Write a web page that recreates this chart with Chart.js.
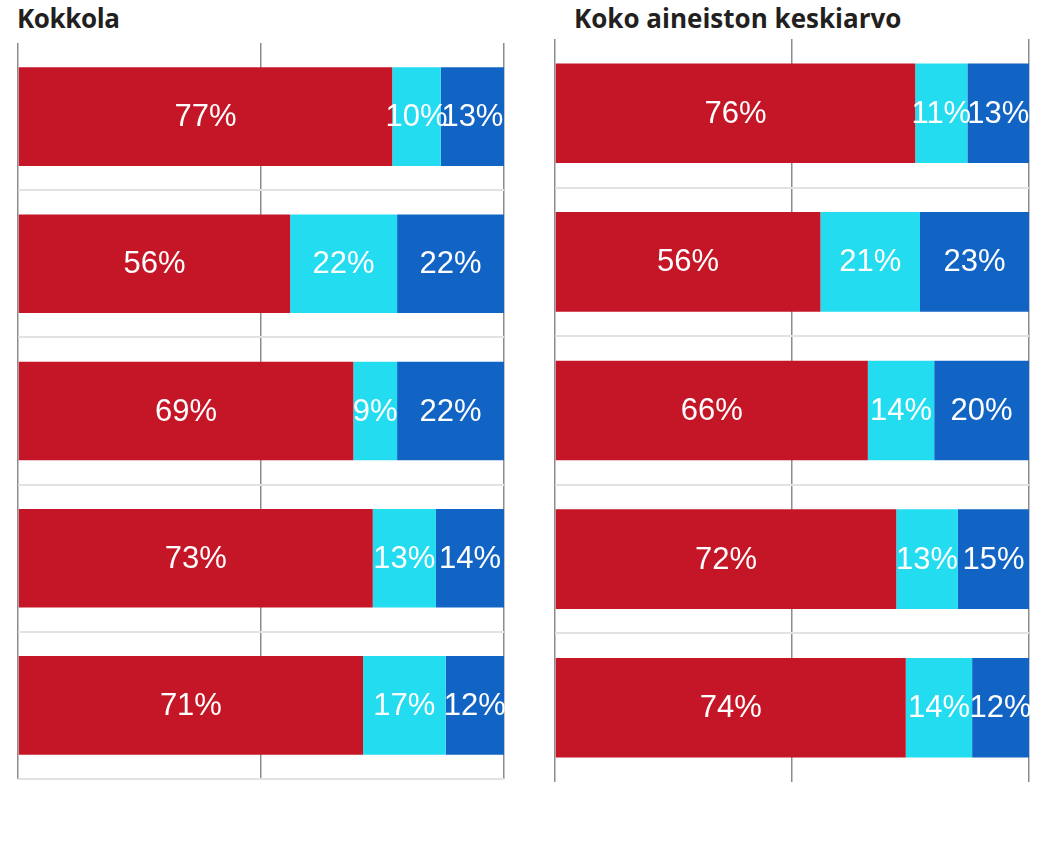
<!DOCTYPE html>
<html>
<head>
<meta charset="utf-8">
<script src="https://cdn.jsdelivr.net/npm/chart.js@4/dist/chart.umd.min.js"></script>
<style>
  body { margin: 0; background: #fff; width: 1046px; height: 863px; position: relative; overflow: hidden; }
  .title { position: absolute; font-family: "Open Sans", sans-serif; font-weight: bold; font-size: 26px; color: #231f20; white-space: nowrap; line-height: 1; }
  .box { position: absolute; }
</style>
</head>
<body>
<div class="title" style="left:17px; top:5px; letter-spacing:-0.4px;">Kokkola</div>
<div class="title" style="left:574px; top:5px;">Koko aineiston keskiarvo</div>
<div class="box" style="left:14px; top:43px; width:494px; height:739px;"><canvas id="left" width="494" height="739"></canvas></div>
<div class="box" style="left:551px; top:39px; width:482px; height:746px;"><canvas id="right" width="482" height="746"></canvas></div>
<script>
// categories (no labels shown in the picture)
const categories = ['1', '2', '3', '4', '5'];
const xTicks = [0, 50, 100];

// Kokkola
const kokkolaRed = [77, 56, 69, 73, 71];
const kokkolaCyan = [10, 22, 9, 13, 17];
const kokkolaBlue = [13, 22, 22, 14, 12];

// Koko aineiston keskiarvo
const avgRed = [76, 56, 66, 72, 74];
const avgCyan = [11, 21, 14, 13, 14];
const avgBlue = [13, 23, 20, 15, 12];

const colors = ['#c41626', '#24dcf0', '#1264c4'];

// draws the value of each segment in the middle of it
const barLabels = {
  id: 'barLabels',
  afterDatasetsDraw(chart) {
    const ctx = chart.ctx;
    ctx.save();
    ctx.fillStyle = '#fff';
    ctx.font = '31px "Liberation Sans", Arial, sans-serif';
    ctx.textAlign = 'center';
    ctx.textBaseline = 'middle';
    chart.data.datasets.forEach(function(ds, i) {
      chart.getDatasetMeta(i).data.forEach(function(bar, j) {
        const x = (bar.x + bar.base) / 2;
        ctx.fillText(ds.data[j] + '%', x, bar.y + 1);
      });
    });
    ctx.restore();
  }
};

function makeChart(id, red, cyan, blue, hideBottom) {
  return new Chart(document.getElementById(id), {
    type: 'bar',
    data: {
      labels: categories,
      datasets: [
        { data: red, backgroundColor: colors[0] },
        { data: cyan, backgroundColor: colors[1] },
        { data: blue, backgroundColor: colors[2] }
      ]
    },
    options: {
      indexAxis: 'y',
      responsive: false,
      animation: false,
      events: [],
      layout: { padding: { left: 4, right: 4, top: 0, bottom: 3 } },
      datasets: { bar: { categoryPercentage: 0.67, barPercentage: 1 } },
      plugins: { legend: { display: false }, tooltip: { enabled: false } },
      scales: {
        x: {
          stacked: true,
          min: 0,
          max: 100,
          afterBuildTicks: function(axis) { axis.ticks = xTicks.map(v => ({ value: v })); },
          ticks: { display: false },
          border: { display: false },
          grid: { color: '#8c8c8c', lineWidth: 1.5, drawTicks: false }
        },
        y: {
          stacked: true,
          ticks: { display: false },
          border: { display: false },
          grid: {
            offset: true,
            drawTicks: false,
            lineWidth: 2,
            color: function(c) {
              if (c.index === 0) return 'rgba(0,0,0,0)';
              // the last boundary line has no tick of its own
              if (hideBottom && (c.type === 'scale' || c.index === undefined || c.index >= categories.length)) return 'rgba(0,0,0,0)';
              return '#e2e2e2';
            }
          }
        }
      }
    },
    plugins: [barLabels]
  });
}

makeChart('left', kokkolaRed, kokkolaCyan, kokkolaBlue, false);
makeChart('right', avgRed, avgCyan, avgBlue, true);
</script>
</body>
</html>
